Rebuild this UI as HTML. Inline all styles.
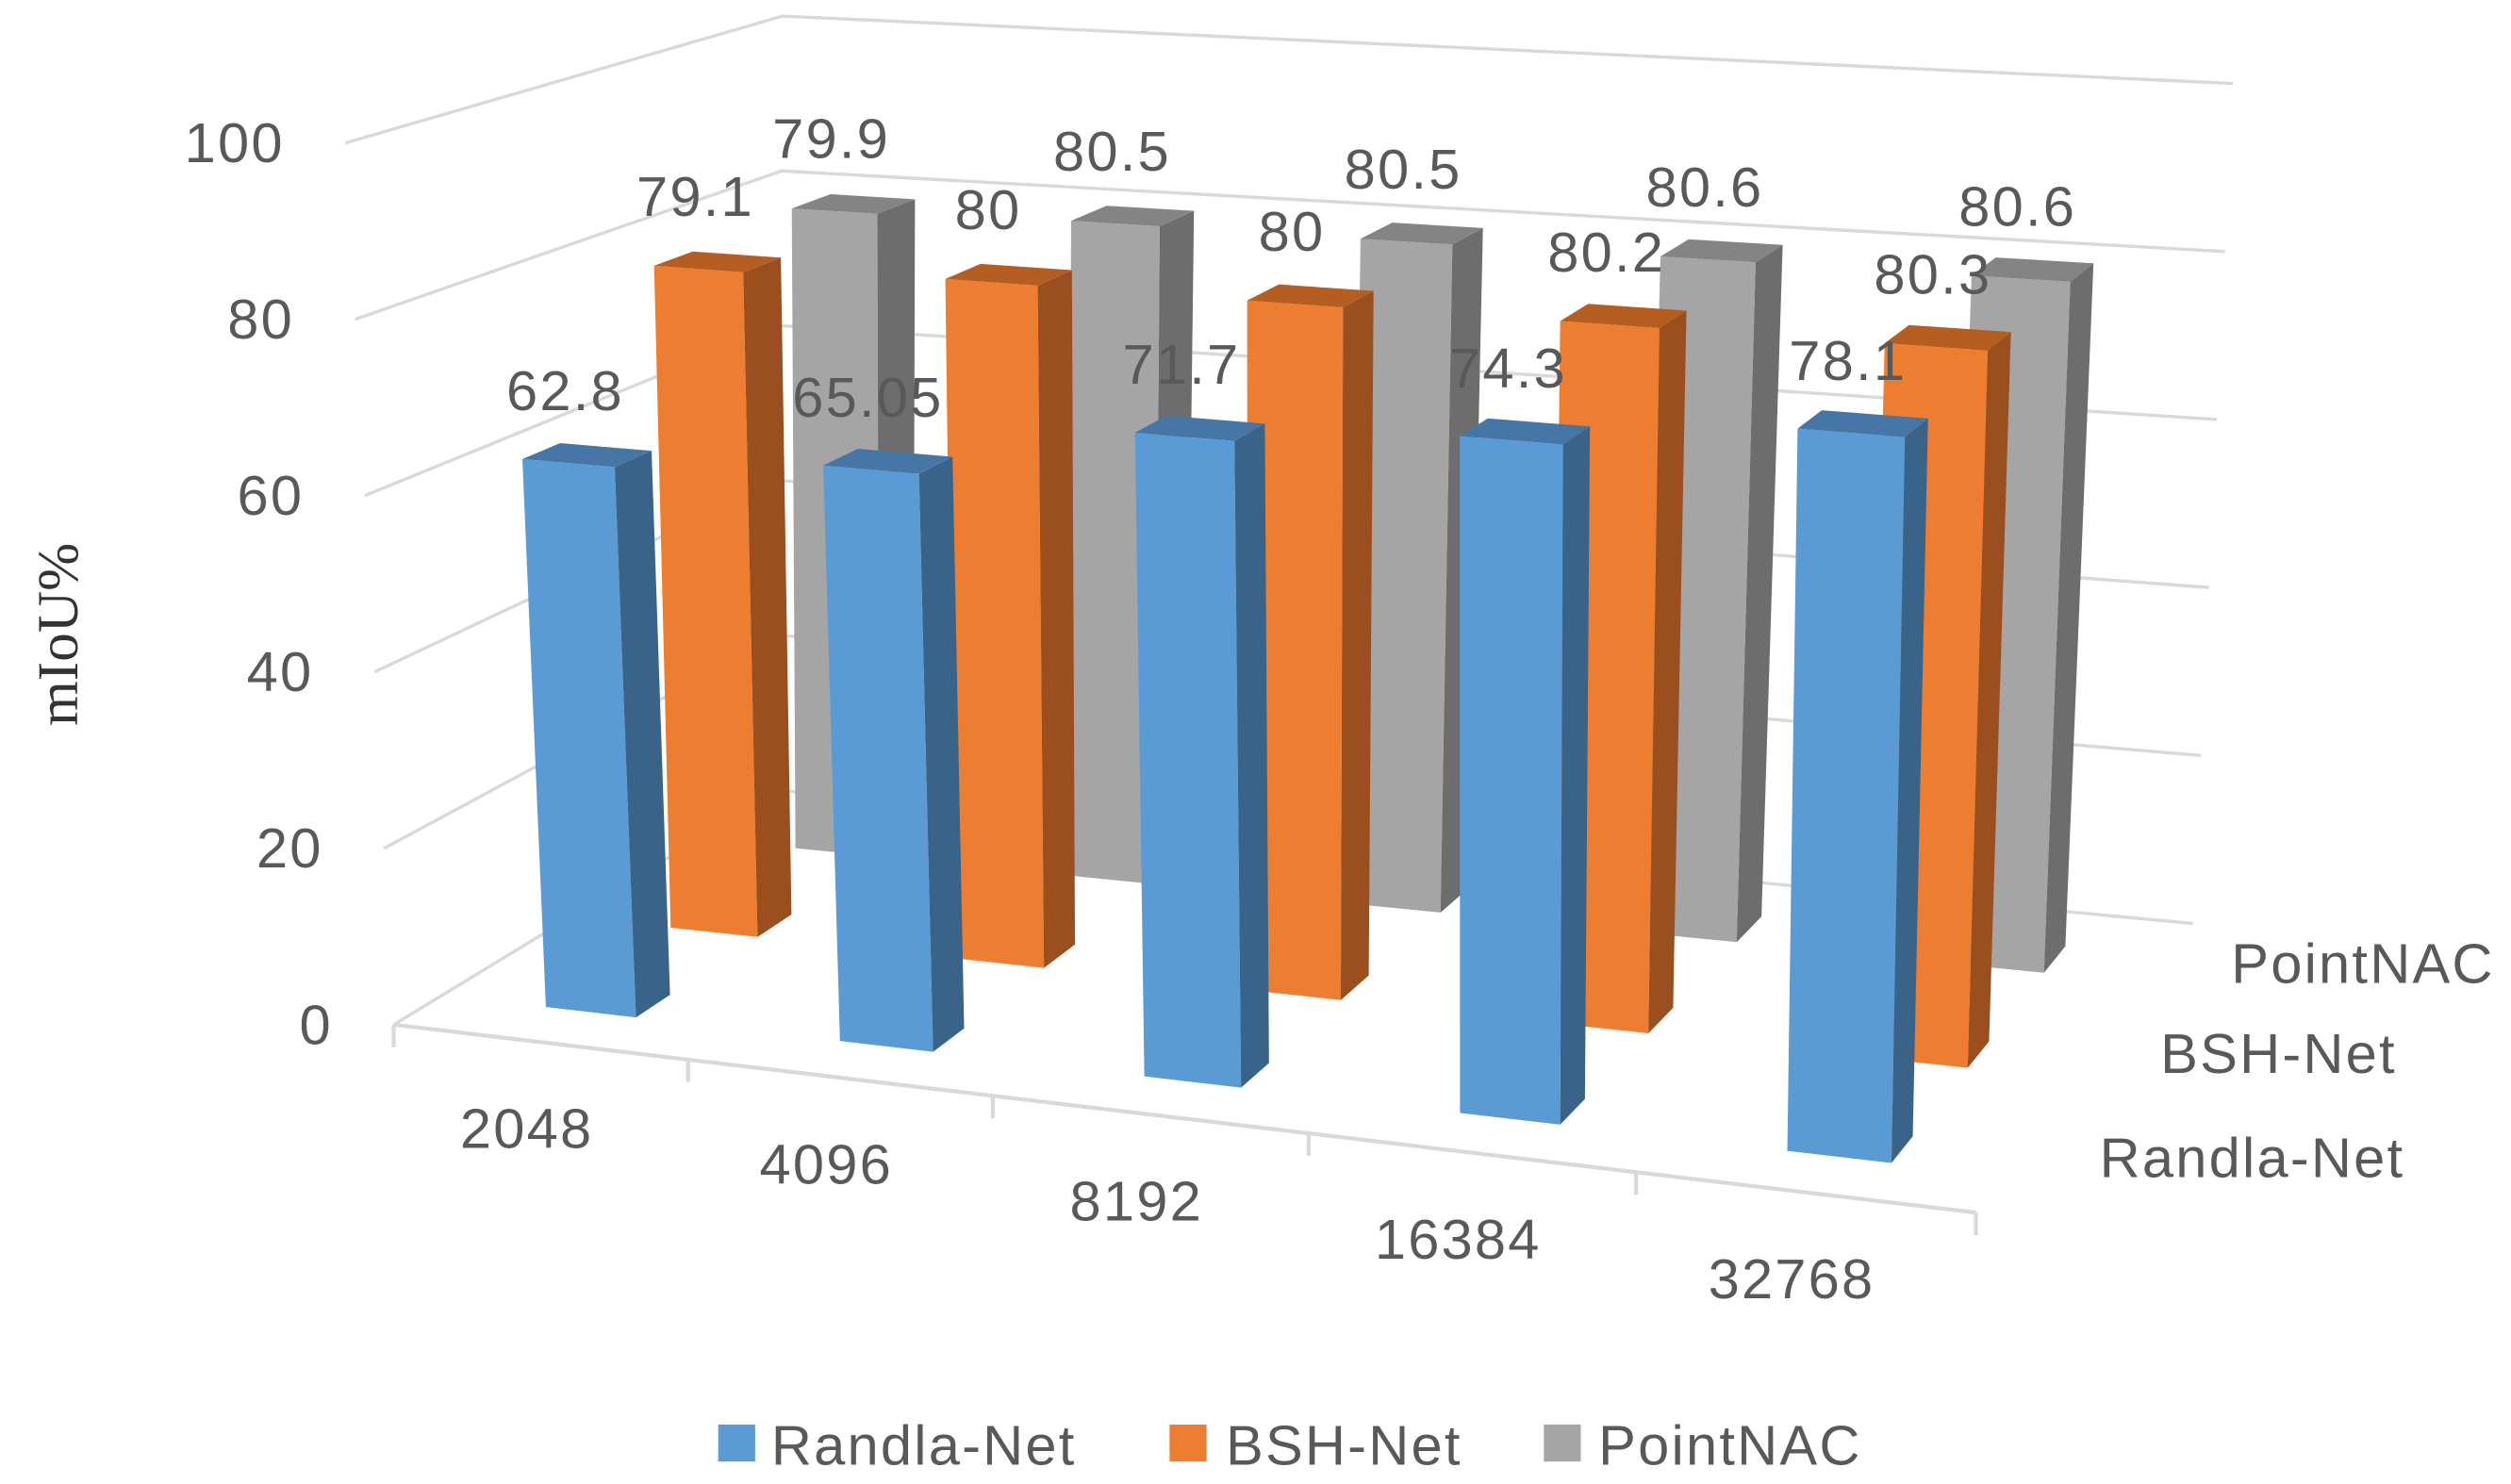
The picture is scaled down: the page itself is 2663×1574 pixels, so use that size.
<!DOCTYPE html>
<html><head><meta charset="utf-8"><style>
html,body{margin:0;padding:0;background:#fff;}
svg{display:block;}
text{font-family:"Liberation Sans",sans-serif;fill:#595959;letter-spacing:1.3px;}
</style></head><body>
<svg id="chart" width="2663" height="1574" viewBox="0 0 1563 924" xmlns="http://www.w3.org/2000/svg">
<g id="grid"></g>
<g id="bars"></g>
<g id="labels"></g>
<g id="axes"></g>
<text transform="translate(48,395) rotate(-90)" text-anchor="middle" style="font-family:'Liberation Serif',serif;font-size:36px;fill:#333;letter-spacing:0">mIoU%</text>
<g>
<rect x="447" y="887" width="23" height="23" fill="#5B9BD5"/>
<text x="480" y="912" font-size="35">Randla-Net</text>
<rect x="728" y="887" width="23" height="23" fill="#ED7D31"/>
<text x="763" y="912" font-size="35">BSH-Net</text>
<rect x="961" y="887" width="23" height="23" fill="#A5A5A5"/>
<text x="995" y="912" font-size="35">PointNAC</text>
</g>
</svg>
<script>
const categories = ["2048","4096","8192","16384","32768"];
const seriesNames = ["Randla-Net","BSH-Net","PointNAC"];
const randlaValues = [62.8,65.05,71.7,74.3,78.1];
const bshValues = [79.1,80,80,80.2,80.3];
const pointnacValues = [79.9,80.5,80.5,80.6,80.6];
const yTicks = [0,20,40,60,80,100];

const NS="http://www.w3.org/2000/svg";
const FL=[245,638], FR=[1230,755], BL=[485,492], BR=[1365,575];
const UFL=[-30,-549], UFR=[12,-590], UBL=[2,-482], UBR=[25,-523];
const K=-0.086;
function lerp(a,b,t){return [a[0]+(b[0]-a[0])*t,a[1]+(b[1]-a[1])*t];}
function fu(X){const t=X/5;return t*(1+K)/(1+K*t);}
function P(X,W,v){
  const u=fu(X), w=W/3;
  const base=lerp(lerp(FL,FR,u),lerp(BL,BR,u),w);
  const up=lerp(lerp(UFL,UFR,u),lerp(UBL,UBR,u),w);
  return [base[0]+up[0]*v/100, base[1]+up[1]*v/100];
}
function mk(tag,attrs,parent){const e=document.createElementNS(NS,tag);for(const k in attrs)e.setAttribute(k,attrs[k]);parent.appendChild(e);return e;}
function pts(a){return a.map(p=>p[0].toFixed(1)+","+p[1].toFixed(1)).join(" ");}

const grid=document.getElementById('grid');
const axes=document.getElementById('axes');
yTicks.forEach((v,i)=>{
  const a=P(0,0,v), b=P(0,3,v), c=P(5,3,v);
  const l=mk('polyline',{points:pts([a,b,c]),fill:'none',stroke:'#d9d9d9','stroke-width':2},grid);
  
  
  const t=mk('text',{x:a[0]-38,y:a[1]+12,'text-anchor':'end','font-size':35},axes);
  t.textContent=String(v);
  
  
});
{
  const a=P(0,0,0), b=P(5,0,0);
  const l=mk('line',{x1:a[0],y1:a[1],x2:b[0],y2:b[1],stroke:'#d9d9d9','stroke-width':2.5},axes);
  
  
  for(let i=0;i<=5;i++){
    const p=P(i,0,0);
    const tk=mk('line',{x1:p[0],y1:p[1],x2:p[0],y2:p[1]+14,stroke:'#d9d9d9','stroke-width':2.5},axes);
    
    
  }
  categories.forEach((c,i)=>{
    const p=P(i+0.5,0,0);
    const t=mk('text',{x:p[0]-8,y:p[1]+66,'text-anchor':'middle','font-size':35},axes);
    t.textContent=c;
    
    
  });
}
const depthLabelPos=[[1497,733],[1492,668],[1553,612]];
seriesNames.forEach((s,i)=>{
  const t=mk('text',{x:depthLabelPos[i][0],y:depthLabelPos[i][1],'text-anchor':'end','font-size':35},axes);
  t.textContent=s;
  
  
});

const allValues=[randlaValues,bshValues,pointnacValues];
const colors=[["#5B9BD5","#3A6389","#4676A6"],["#ED7D31","#9C4F1E","#B65E22"],["#A5A5A5","#6D6D6D","#848484"]];
const bars=document.getElementById('bars');
const labels=document.getElementById('labels');
for(let r=2;r>=0;r--){
  const vals=allValues[r];
  for(let i=0;i<vals.length;i++){
    const v=vals[i];
    const X0=i+0.36,X1=i+0.67,W0=r+0.38,W1=r+0.66;
    const g=mk('g',{},bars);
    
    
    mk('polygon',{points:pts([P(X0,W0,0),P(X1,W0,0),P(X1,W0,v),P(X0,W0,v)]),fill:colors[r][0]},g);
    mk('polygon',{points:pts([P(X1,W0,0),P(X1,W1,0),P(X1,W1,v),P(X1,W0,v)]),fill:colors[r][1]},g);
    mk('polygon',{points:pts([P(X0,W0,v),P(X1,W0,v),P(X1,W1,v),P(X0,W1,v)]),fill:colors[r][2]},g);
    const tp=P((X0+X1)/2,W0,v);
    const t=mk('text',{x:tp[0]-2,y:tp[1]-33,'text-anchor':'middle','font-size':35},labels);
    t.textContent=String(v);
    
    
  }
}
</script>
</body></html>
